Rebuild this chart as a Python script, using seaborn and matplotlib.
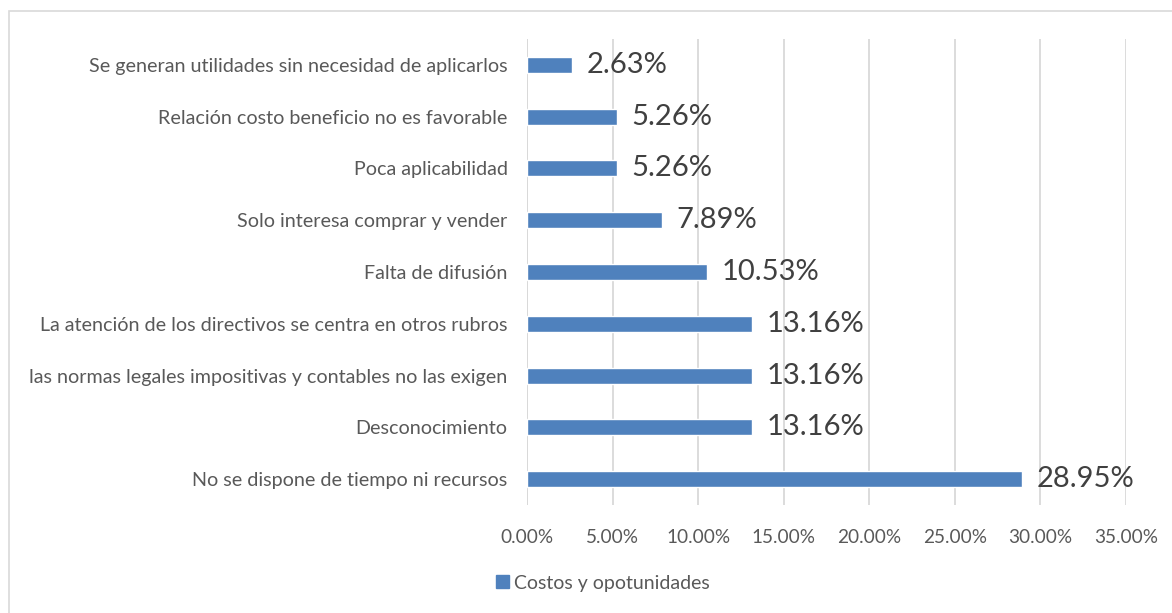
import matplotlib
matplotlib.use("Agg")
import matplotlib.pyplot as plt
import matplotlib.patches as mpatches
import seaborn as sns
import pandas as pd

# data (top to bottom)
categories = [
    "Se generan utilidades sin necesidad de aplicarlos",
    "Relación costo beneficio no es favorable",
    "Poca aplicabilidad",
    "Solo interesa comprar y vender",
    "Falta de difusión",
    "La atención de los directivos se centra en otros rubros",
    "las normas legales impositivas y contables no las exigen",
    "Desconocimiento",
    "No se dispone de tiempo ni recursos",
]
values = [2.63, 5.26, 5.26, 7.89, 10.53, 13.16, 13.16, 13.16, 28.95]
series_name = "Costos y opotunidades"
x_ticks = [0, 5, 10, 15, 20, 25, 30, 35]

df = pd.DataFrame({"cat": categories, "val": values})

sns.set_theme(style="white")
plt.rcParams["font.family"] = ["Lato", "DejaVu Sans"]

bar_color = "#4F81BD"
text_color = "#595959"

fig = plt.figure(figsize=(11.72, 6.13), dpi=100)
ax = fig.add_axes([527 / 1172, 1 - 505 / 613, (1126 - 527) / 1172, (505 - 39) / 613])

sns.barplot(data=df, x="val", y="cat", color=bar_color, width=0.31,
            saturation=1, ax=ax, orient="h")

ax.set_xlim(0, 35)
ax.set_xticks(x_ticks)
ax.set_xticklabels([f"{t:.2f}%" for t in x_ticks])
ax.xaxis.grid(True, color="#D9D9D9", linewidth=1.3)
ax.set_axisbelow(True)
for s in ax.spines.values():
    s.set_visible(False)
ax.axvline(0, color="#D9D9D9", linewidth=1.3, zorder=0)
ax.set_xlabel("")
ax.set_ylabel("")
ax.tick_params(axis="x", length=0, pad=17, labelsize=13.7, labelcolor=text_color)
ax.tick_params(axis="y", length=0, pad=14, labelsize=14.2, labelcolor=text_color)

for i, v in enumerate(values):
    ax.text(v + 0.85, i, f"{v:.2f}%", va="center", ha="left",
            fontsize=21, color="#404040")

# legend below the axes
handle = mpatches.Patch(color=bar_color, label=series_name)
fig.legend(handles=[handle], loc="center", bbox_to_anchor=(603 / 1172, 1 - 583 / 613),
           frameon=False, fontsize=14, handlelength=0.65, handleheight=0.65,
           handletextpad=0.3, labelcolor=text_color)

# chart border
fig.patches.append(mpatches.Rectangle((8.5 / 1172, -0.05), 1.2, 1 - 10.5 / 613 + 0.05,
                                      transform=fig.transFigure, fill=False,
                                      edgecolor="#D9D9D9", linewidth=1.2))

fig.savefig("out.png", dpi=100)
